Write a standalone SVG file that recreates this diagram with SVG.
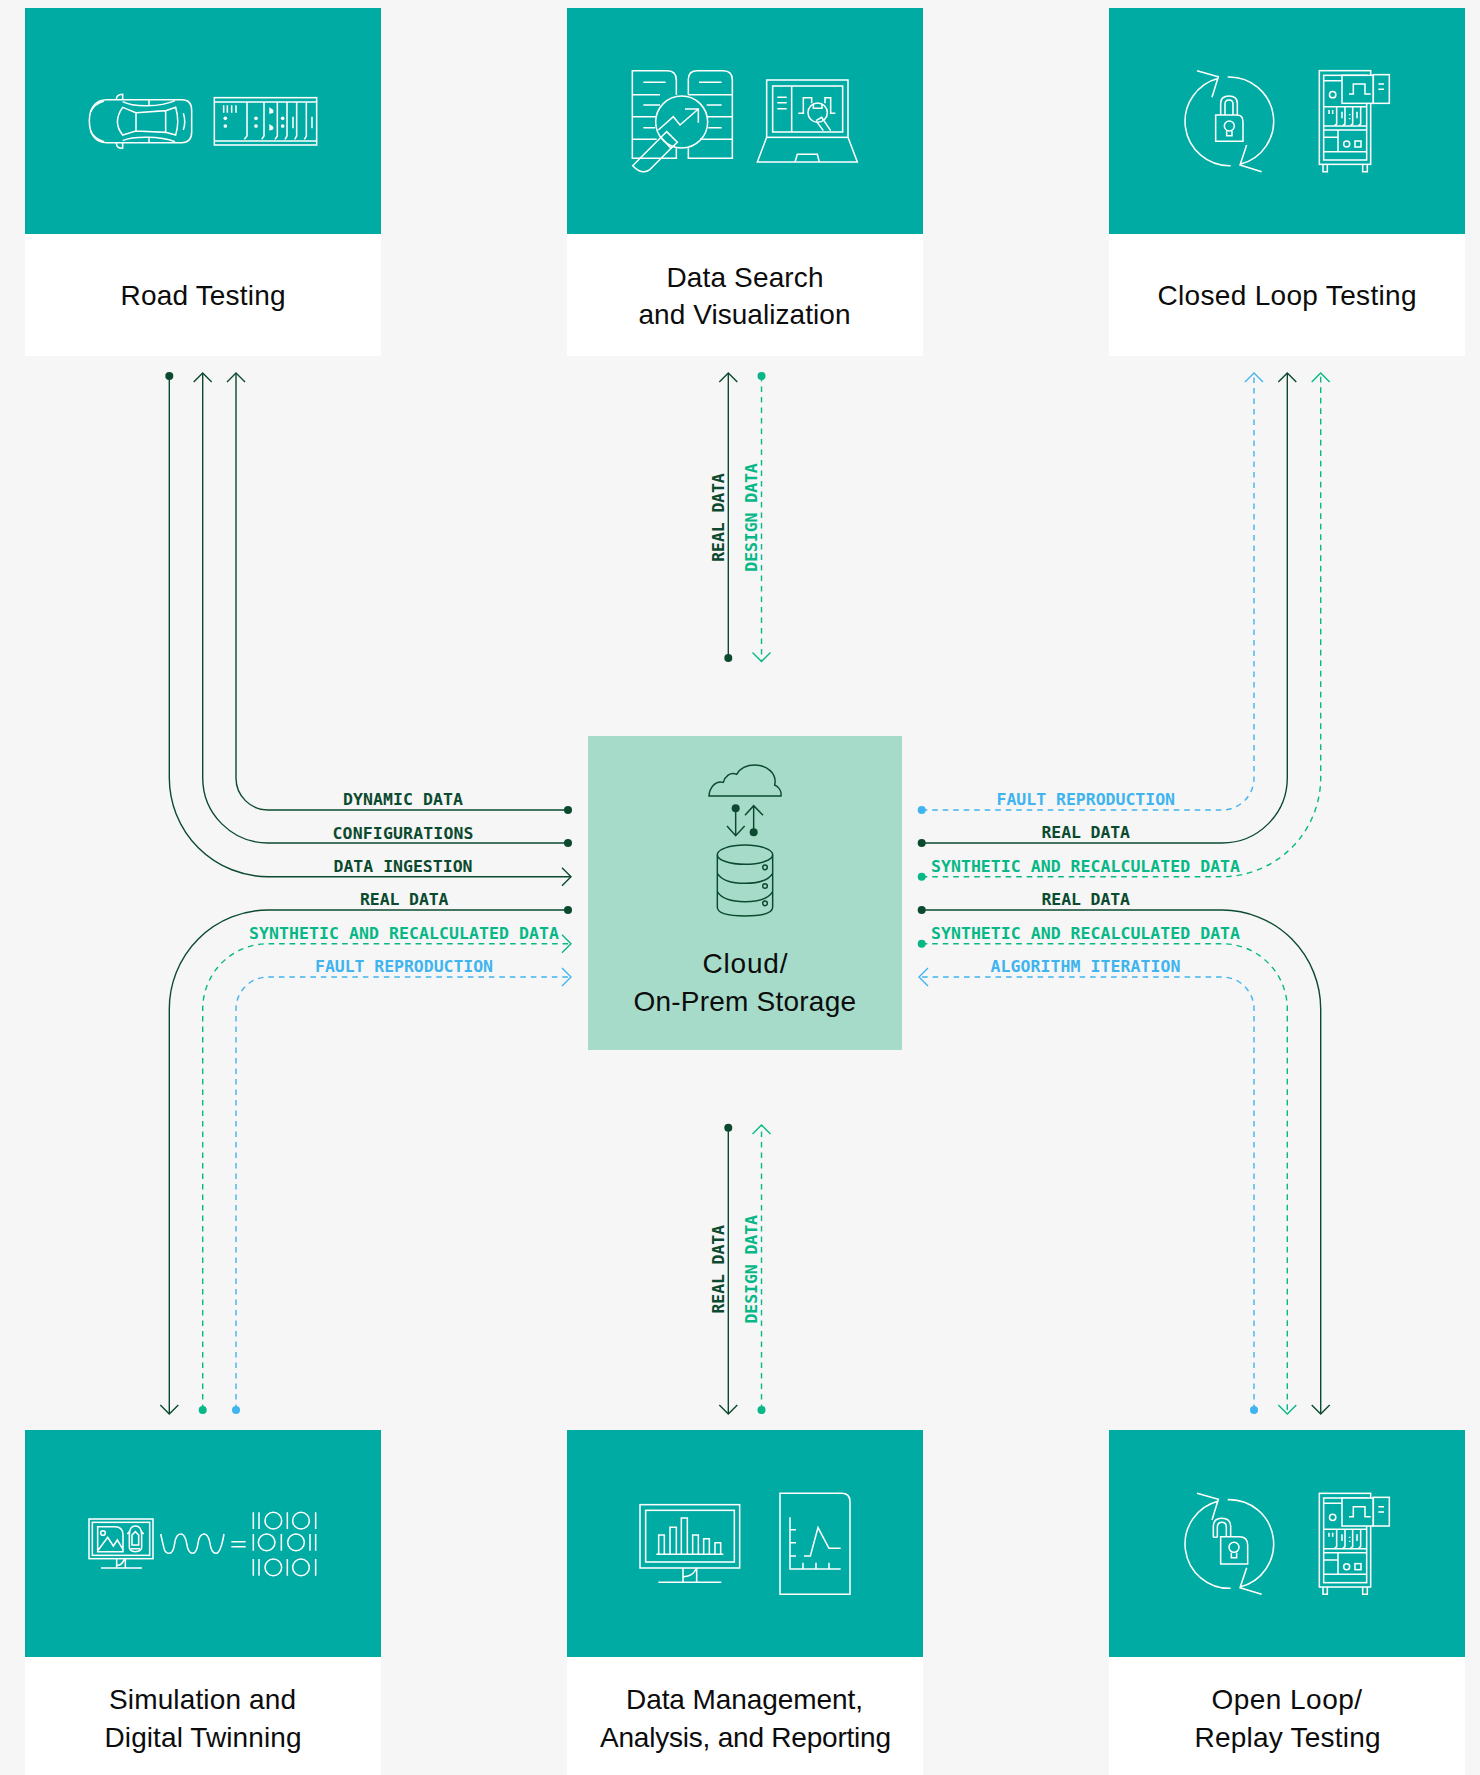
<svg xmlns="http://www.w3.org/2000/svg" width="1480" height="1775" viewBox="0 0 1480 1775">
<style>
.teal{fill:#00aba4}.white{fill:#fff}
.ic{fill:none;stroke:#fff;stroke-width:4.6;stroke-linejoin:miter}
.dot{fill:#fff;stroke:none}
.dk{fill:none;stroke:#0b4a2f;stroke-width:4.4}
.dkf{fill:#0b4a2f;stroke:none}
.title{font-family:"Liberation Sans",Arial,sans-serif;font-size:28px;fill:#0c0c0c;text-anchor:start}
.lb{font-family:"DejaVu Sans Mono","Liberation Mono",monospace;font-weight:700;font-size:16.5px}
.c{fill:none;stroke-width:1.4}
.d{fill:#0b4a2f}.g{fill:#07b886}.b{fill:#3fb4ee}
.sd{stroke:#0b4a2f}.sg{stroke:#07b886;stroke-dasharray:5.600 4.900}.sb{stroke:#3fb4ee;stroke-dasharray:5.600 4.900}
</style>
<defs>
<marker id="ad" markerUnits="userSpaceOnUse" markerWidth="22" markerHeight="22" refX="11" refY="11" orient="auto" overflow="visible"><path d="M2 2L11 11L2 20" fill="none" stroke="#0b4a2f" stroke-width="1.4"/></marker>
<marker id="ag" markerUnits="userSpaceOnUse" markerWidth="22" markerHeight="22" refX="11" refY="11" orient="auto" overflow="visible"><path d="M2 2L11 11L2 20" fill="none" stroke="#07b886" stroke-width="1.4"/></marker>
<marker id="ab" markerUnits="userSpaceOnUse" markerWidth="22" markerHeight="22" refX="11" refY="11" orient="auto" overflow="visible"><path d="M2 2L11 11L2 20" fill="none" stroke="#3fb4ee" stroke-width="1.4"/></marker>
<g id="cabinet">
<rect class="ic" x="658" y="212" width="154" height="281"/>
<rect class="ic" x="671" y="226" width="129" height="254"/>
<path class="ic" d="M671 242H726M671 320H800M671 378H800M671 390H800M714 390V455M671 412H714M671 455H800M710 320V372L704 376M735 320V372L729 376M758 320V372L752 376M782 320V372L776 376"/>
<path class="ic" d="M687 330V342M698 330V342M726 335V355M771 335V355M749 342V346M749 354V358"/>
<circle class="ic" cx="698" cy="284" r="9.500"/><circle class="ic" cx="740" cy="432" r="9"/><rect class="ic" x="765" y="423" width="18" height="18"/>
<path class="ic" d="M669 493V515H682V493M788 493V515H802V493"/>
<rect class="ic" x="726" y="226" width="94" height="84" style="fill:#00aba4"/>
<rect class="ic" x="820" y="224" width="48" height="86" style="fill:#00aba4"/>
<path class="ic" d="M747 282H760V252H795V282H812M835 252H852M835 268H852"/>
</g>
<g id="loop">
<path class="ic" d="M356 235A133 133 0 0 0 392 497M383 231A133 133 0 0 1 420 493M291 212L355 230L336 292M485 515L420 495L440 435"/>
</g>
</defs>
<rect width="1480" height="1775" fill="#f6f6f6"/>

<g id="connectors">
<path class="c sd" d="M169.300 376V777.700A99 99 0 0 0 268.300 876.700H571" marker-end="url(#ad)"/>
<path class="c sd" d="M568 843H268A65.300 65.300 0 0 1 202.700 777.700V373" marker-end="url(#ad)"/>
<path class="c sd" d="M568 810H268A32 32 0 0 1 236 778V373" marker-end="url(#ad)"/>
<path class="c sd" d="M568 910H268.300A99 99 0 0 0 169.300 1009V1414" marker-end="url(#ad)"/>
<path class="c sg" d="M202.700 1410V1009A65.300 65.300 0 0 1 268 943.700H571" marker-end="url(#ag)"/>
<path class="c sb" d="M236 1410V1009A32 32 0 0 1 268 977H571" marker-end="url(#ab)"/>
<path class="c sd" d="M728.300 658V373" marker-end="url(#ad)"/>
<path class="c sg" d="M761.500 376V661.500" marker-end="url(#ag)"/>
<path class="c sd" d="M728.300 1127.700V1414" marker-end="url(#ad)"/>
<path class="c sg" d="M761.500 1410V1125" marker-end="url(#ag)"/>
<path class="c sb" d="M921.700 810H1222A32 32 0 0 0 1254 778V373" marker-end="url(#ab)"/>
<path class="c sd" d="M921.700 843H1222A65.300 65.300 0 0 0 1287.300 777.700V373" marker-end="url(#ad)"/>
<path class="c sg" d="M921.700 876.700H1222A99 99 0 0 0 1320.700 777.700V373" marker-end="url(#ag)"/>
<path class="c sd" d="M921.700 910H1222A99 99 0 0 1 1320.700 1009V1414" marker-end="url(#ad)"/>
<path class="c sg" d="M921.700 943.700H1222A65.300 65.300 0 0 1 1287.300 1009V1414" marker-end="url(#ag)"/>
<path class="c sb" d="M1254 1410V1009A32 32 0 0 0 1222 977H919" marker-end="url(#ab)"/>
<circle class="d" cx="169.300" cy="376" r="4"/><circle class="d" cx="568" cy="810" r="4"/><circle class="d" cx="568" cy="843" r="4"/><circle class="d" cx="568" cy="910" r="4"/>
<circle class="g" cx="202.700" cy="1410" r="4"/><circle class="b" cx="236" cy="1410" r="4"/>
<circle class="d" cx="728.300" cy="658" r="4"/><circle class="g" cx="761.500" cy="376" r="4"/>
<circle class="d" cx="728.300" cy="1127.700" r="4"/><circle class="g" cx="761.500" cy="1410" r="4"/>
<circle class="b" cx="921.700" cy="810" r="4"/><circle class="d" cx="921.700" cy="843" r="4"/><circle class="g" cx="921.700" cy="876.700" r="4"/><circle class="d" cx="921.700" cy="910" r="4"/><circle class="g" cx="921.700" cy="943.700" r="4"/><circle class="b" cx="1254" cy="1410" r="4"/>
<g id="connector-labels" class="lb">
<text class="d" x="343" y="805.300" textLength="120">DYNAMIC DATA</text>
<text class="d" x="332.500" y="839" textLength="141">CONFIGURATIONS</text>
<text class="d" x="333.500" y="872.300" textLength="139">DATA INGESTION</text>
<text class="d" x="360" y="905" textLength="88.500">REAL DATA</text>
<text class="g" x="249" y="938.500" textLength="310">SYNTHETIC AND RECALCULATED DATA</text>
<text class="b" x="315" y="971.500" textLength="178">FAULT REPRODUCTION</text>
<text class="b" x="996.500" y="805.300" textLength="178.500">FAULT REPRODUCTION</text>
<text class="d" x="1041.500" y="838" textLength="88.500">REAL DATA</text>
<text class="g" x="931" y="871.500" textLength="309">SYNTHETIC AND RECALCULATED DATA</text>
<text class="d" x="1041.500" y="905" textLength="88.500">REAL DATA</text>
<text class="g" x="931" y="938.500" textLength="309">SYNTHETIC AND RECALCULATED DATA</text>
<text class="b" x="990.500" y="971.500" textLength="190">ALGORITHM ITERATION</text>
<text class="d" transform="translate(723.700 561.700) rotate(-90)" textLength="88.500">REAL DATA</text>
<text class="g" transform="translate(756.700 571.700) rotate(-90)" textLength="108.500">DESIGN DATA</text>
<text class="d" transform="translate(723.700 1313.500) rotate(-90)" textLength="88.500">REAL DATA</text>
<text class="g" transform="translate(756.700 1323.500) rotate(-90)" textLength="108.500">DESIGN DATA</text>
</g>
</g>

<g id="node-road-testing">
<rect class="teal" x="25" y="8" width="356" height="226"/><rect class="white" x="25" y="234" width="356" height="122"/>
<g transform="scale(.33333)">
<path class="ic" d="M320 299H545Q575 299 575 330V397Q575 428 545 428H320C285 428 268 400 268 363C268 327 285 299 320 299Z"/>
<path class="ic" d="M349 299C349 288 356 283 368 283V299M349 428C349 440 356 445 368 445V428"/>
<path class="ic" d="M368 322C348 350 348 380 368 405L408 393V338ZM408 338L497 332V397L408 393M497 332L527 322C535 350 535 380 527 405L497 397"/>
<path class="ic" d="M368 305C400 322 480 322 525 302M368 422C400 408 480 408 525 425M447 299V315M447 412V428"/>
<path class="ic" d="M272 335C280 318 295 308 312 303M272 395C280 410 295 420 312 425M550 340C555 355 555 375 550 390"/>
<rect class="ic" x="643" y="293" width="307" height="142"/>
<path class="ic" d="M645 306H948M645 423H948M741 306V408L733 418M792 306V408L785 418M832 306V408L825 418M861 306V408L855 418M890 306V408L884 418M919 306V408L913 418"/>
<path class="ic" d="M671 316V338M682 316V338M695 316V338M708 316V338M879 350V385M936 350V385"/>
<path class="dot" d="M808 322L820 330V338L808 342ZM808 372L820 380V388L808 392Z"/>
<circle class="dot" cx="676" cy="355" r="5.500"/><circle class="dot" cx="676" cy="378" r="5.500"/><circle class="dot" cx="768" cy="355" r="5.500"/><circle class="dot" cx="768" cy="378" r="5.500"/><circle class="dot" cx="848" cy="355" r="5.500"/><circle class="dot" cx="848" cy="378" r="5.500"/>
</g>
<text class="title" x="120.500" y="305" textLength="165">Road Testing</text>
</g>

<g id="node-data-search">
<rect class="teal" x="567" y="8" width="356" height="226"/><rect class="white" x="567" y="234" width="356" height="122"/>
<g transform="translate(560 0) scale(.33333)">
<path class="ic" d="M349 284V240Q349 212 322 212H217V475H349V445M217 284H300M217 350H287M217 418H290M385 284V238Q385 212 412 212H490Q517 212 517 240V475H385V445M385 284H517M440 350H517M420 418H517M250 247H317M417 247H485M250 315H300M440 315H485M250 383H285M445 383H485"/>
<circle class="ic" cx="365" cy="366" r="78"/>
<path class="ic" d="M295 390L340 350L360 375L415 327M375 327H415V368M320 395L352 427L333 445L303 412ZM303 412L218 497Q250 530 275 503L333 445"/>
<rect class="ic" x="620" y="240" width="244" height="172"/><rect class="ic" x="638" y="258" width="210" height="138"/>
<path class="ic" d="M695 258V396M652 292H680M652 308H680M652 326H680M620 412L592 486H892L864 412M705 486L712 463H772L778 486"/>
<path class="ic" d="M715 340H730V293H755V310M795 310V293H812V340H826M760 312V325H786V312"/>
<circle class="ic" cx="773" cy="338" r="29"/>
<path class="ic" d="M768 362L785 352L812 392M790 392L770 365"/>
</g>
<text class="title" x="666.500" y="286.700" textLength="157">Data Search</text>
<text class="title" x="638.500" y="324" textLength="212">and Visualization</text>
</g>

<g id="node-closed-loop">
<rect class="teal" x="1109" y="8" width="356" height="226"/><rect class="white" x="1109" y="234" width="356" height="122"/>
<g transform="translate(1100 0) scale(.33333)">
<use href="#loop"/><use href="#cabinet"/>
<path class="ic" d="M347 345H410Q429 345 429 365V424H347ZM362 345V310Q362 288 387 288Q412 288 412 310V345M375 345V312Q375 300 387 300Q399 300 399 312V345M380 392V407H396V392"/>
<circle class="ic" cx="388" cy="378" r="15"/>
</g>
<text class="title" x="1157.500" y="305" textLength="259">Closed Loop Testing</text>
</g>

<g id="node-storage">
<rect x="588" y="736" width="314" height="314" fill="#a6dbc9"/>
<g transform="translate(580 730) scale(.33333)">
<path class="dk" d="M387 198H603C605 182 595 170 584 165C592 130 560 105 525 105C500 105 480 115 470 133C450 125 435 140 430 157C405 150 388 175 387 198Z"/>
<path class="dk" d="M467 235V317M441 288L467 317L494 288M521 307V227M495 256L521 227L549 256"/>
<circle class="dkf" cx="467" cy="235" r="12"/><circle class="dkf" cx="521" cy="307" r="12"/>
<ellipse class="dk" cx="495" cy="374" rx="83" ry="29"/>
<path class="dk" d="M412 374V532Q412 558 495 558Q578 558 578 532V374M412 430Q430 460 495 460Q560 460 578 430M412 485Q430 515 495 515Q560 515 578 485"/>
<circle class="dk" cx="555" cy="412" r="7"/><circle class="dk" cx="555" cy="468" r="7"/><circle class="dk" cx="555" cy="520" r="7"/>
</g>
<text class="title" x="702.500" y="972.700" textLength="85">Cloud/</text>
<text class="title" x="633.500" y="1010.500" textLength="222.500">On-Prem Storage</text>
</g>

<g id="node-simulation">
<rect class="teal" x="25" y="1430" width="356" height="227"/><rect class="white" x="25" y="1657" width="356" height="118"/>
<g transform="translate(60 1460) scale(.33333)">
<rect class="ic" x="87" y="177" width="192" height="119"/><rect class="ic" x="97" y="187" width="172" height="99"/>
<path class="ic" d="M113 200H165Q189 200 189 225V275H113ZM115 270L143 232L160 258L172 240L189 268"/><circle class="ic" cx="129" cy="219" r="7"/>
<path class="ic" d="M208 225Q208 198 226 198Q245 198 245 225V262Q245 275 226 275Q208 275 208 262ZM216 225L226 215L236 225V255H216ZM202 222L208 215M251 222L245 215M212 266H240"/>
<path class="ic" d="M170 297V322M196 297V322M123 324H246M172 316Q185 316 193 298"/>
<path class="ic" d="M302 222L312 265Q316 280 328 280Q340 280 344 250Q348 222 362 222Q375 222 380 250Q384 280 398 280Q410 280 414 250Q418 222 432 222Q445 222 450 250Q454 280 468 280Q482 280 492 222M514 245H557M514 260H557"/>
<path class="ic" d="M580 157V207M597 157V207M682 157V207M767 157V207M580 222V272M664 222V272M750 222V272M767 222V272M580 297V347M597 297V347M682 297V347M767 297V347"/>
<circle class="ic" cx="640" cy="182" r="25"/><circle class="ic" cx="723" cy="182" r="25"/><circle class="ic" cx="620" cy="247" r="25"/><circle class="ic" cx="708" cy="247" r="25"/><circle class="ic" cx="640" cy="322" r="25"/><circle class="ic" cx="723" cy="322" r="25"/>
</g>
<text class="title" x="109" y="1708.500" textLength="187">Simulation and</text>
<text class="title" x="104.500" y="1746.700" textLength="197">Digital Twinning</text>
</g>

<g id="node-data-management">
<rect class="teal" x="567" y="1430" width="356" height="227"/><rect class="white" x="567" y="1657" width="356" height="118"/>
<g transform="translate(610 1460) scale(.33333)">
<rect class="ic" x="90" y="134" width="299" height="190"/><rect class="ic" x="107" y="151" width="266" height="155"/>
<path class="ic" d="M139 283H340M146 283V225H163V283M180 283V202H199V283M214 283V174H232V283M248 283V225H265V283M281 283V236H298V283M315 283V248H332V283M219 324V367M260 324V367M145 367H334M221 350Q250 348 258 326"/>
<path class="ic" d="M510 100H695Q720 100 720 125V403H510ZM540 172V327H692M540 209H558M540 248H558M540 288H558M579 308V327M618 308V327M657 308V327M582 288H601L624 203L657 265H692"/>
</g>
<text class="title" x="626" y="1708.500" textLength="237">Data Management,</text>
<text class="title" x="600" y="1746.700" textLength="291">Analysis, and Reporting</text>
</g>

<g id="node-open-loop">
<rect class="teal" x="1109" y="1430" width="356" height="227"/><rect class="white" x="1109" y="1657" width="356" height="118"/>
<g transform="translate(1100 1422.670) scale(.33333)">
<use href="#loop"/><use href="#cabinet"/>
</g>
<g transform="translate(1160 1460) scale(.33333)">
<path class="ic" d="M182 230H238Q263 230 263 255V312H182ZM160 232V200Q160 175 185 175Q212 175 212 200V230M172 232V202Q172 187 186 187Q199 187 199 202V230M160 232H172M214 278V293H230V278"/>
<circle class="ic" cx="222" cy="262" r="15"/>
</g>
<text class="title" x="1211.500" y="1708.500" textLength="150.500">Open Loop/</text>
<text class="title" x="1194.500" y="1746.700" textLength="186">Replay Testing</text>
</g>
</svg>
